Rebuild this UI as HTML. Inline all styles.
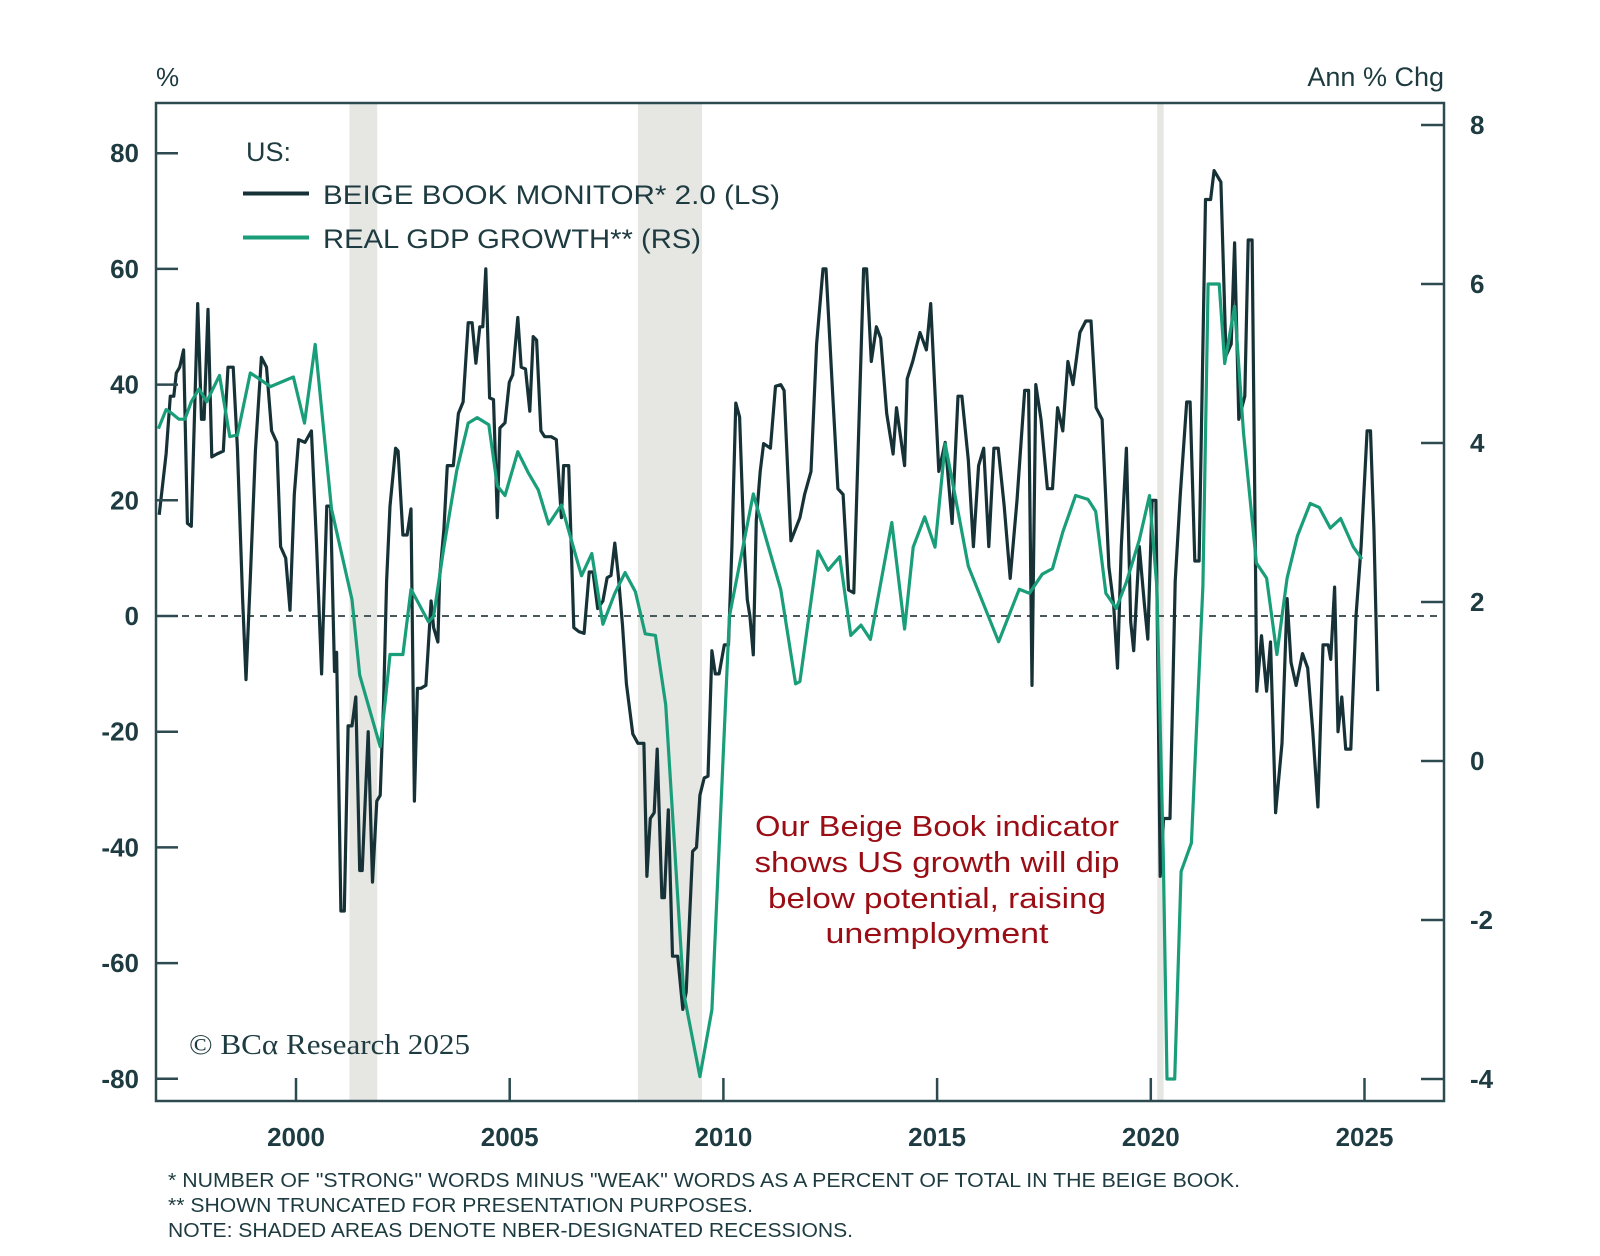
<!DOCTYPE html>
<html><head><meta charset="utf-8"><style>
html,body{margin:0;padding:0;background:#fff;}
svg{display:block;font-family:"Liberation Sans",sans-serif;}
</style></head><body>
<svg id="chart" width="1600" height="1256" viewBox="0 0 1600 1256" xmlns="http://www.w3.org/2000/svg">
<rect width="1600" height="1256" fill="#fff"/>
<g id="rec"></g>
<line x1="156" x2="1444" y1="616" y2="616" stroke="#4a5a5c" stroke-width="2" stroke-dasharray="7,6"/>
<g id="series"></g>
<rect x="156" y="103" width="1288" height="998" fill="none" stroke="#2c4a50" stroke-width="2.5"/>
<g id="axes" fill="#1d3b40" font-weight="bold" font-size="26"></g>
<text x="156" y="86" font-size="26" fill="#1d3b40">%</text>
<text x="1444" y="86" font-size="27" fill="#1d3b40" text-anchor="end">Ann % Chg</text>
<g fill="#1d3b40" font-size="27">
<text x="246" y="161">US:</text>
<line x1="243" x2="309" y1="193.5" y2="193.5" stroke="#173237" stroke-width="4"/>
<text x="323" y="204" textLength="457" lengthAdjust="spacingAndGlyphs">BEIGE BOOK MONITOR* 2.0 (LS)</text>
<line x1="243" x2="309" y1="237.5" y2="237.5" stroke="#1a9e7a" stroke-width="4"/>
<text x="323" y="248" textLength="378" lengthAdjust="spacingAndGlyphs">REAL GDP GROWTH** (RS)</text>
</g>
<g fill="#9b0d14" font-size="29" text-anchor="middle">
<text x="937" y="836" textLength="364" lengthAdjust="spacingAndGlyphs">Our Beige Book indicator</text>
<text x="937" y="872" textLength="365" lengthAdjust="spacingAndGlyphs">shows US growth will dip</text>
<text x="937" y="908" textLength="338" lengthAdjust="spacingAndGlyphs">below potential, raising</text>
<text x="937" y="943" textLength="223" lengthAdjust="spacingAndGlyphs">unemployment</text>
</g>
<text x="189" y="1054" font-family="Liberation Serif,serif" font-size="28" fill="#1d3b40" textLength="281" lengthAdjust="spacingAndGlyphs">© BCα Research 2025</text>
<g fill="#1d3b40" font-size="20">
<text x="168" y="1187" textLength="1072" lengthAdjust="spacingAndGlyphs">* NUMBER OF "STRONG" WORDS MINUS "WEAK" WORDS AS A PERCENT OF TOTAL IN THE BEIGE BOOK.</text>
<text x="168" y="1212" textLength="585" lengthAdjust="spacingAndGlyphs">** SHOWN TRUNCATED FOR PRESENTATION PURPOSES.</text>
<text x="168" y="1237" textLength="685" lengthAdjust="spacingAndGlyphs">NOTE: SHADED AREAS DENOTE NBER-DESIGNATED RECESSIONS.</text>
</g>
</svg>
<script>
const xTicks=[2000,2005,2010,2015,2020,2025];
const leftTicks=[80,60,40,20,0,-20,-40,-60,-80];
const rightTicks=[8,6,4,2,0,-2,-4];
const recStart=[2001.25,2008.0,2020.15];
const recEnd=[2001.9,2009.5,2020.3];
const bbDates=[1996.8,1996.96,1997.06,1997.14,1997.2,1997.28,1997.37,1997.46,1997.55,1997.7,1997.79,1997.85,1997.94,1998.03,1998.15,1998.3,1998.41,1998.53,1998.63,1998.75,1998.83,1998.93,1999.05,1999.19,1999.31,1999.43,1999.55,1999.64,1999.76,1999.86,1999.96,2000.06,2000.21,2000.36,2000.48,2000.6,2000.72,2000.81,2000.9,2000.95,2001.05,2001.13,2001.22,2001.31,2001.4,2001.49,2001.55,2001.69,2001.79,2001.89,2001.97,2002.05,2002.12,2002.2,2002.33,2002.39,2002.5,2002.6,2002.69,2002.77,2002.84,2002.92,2003.04,2003.16,2003.22,2003.32,2003.36,2003.46,2003.54,2003.68,2003.8,2003.91,2004.03,2004.12,2004.21,2004.3,2004.37,2004.44,2004.53,2004.62,2004.71,2004.77,2004.89,2004.99,2005.07,2005.19,2005.27,2005.37,2005.47,2005.55,2005.63,2005.73,2005.82,2005.97,2006.09,2006.21,2006.26,2006.38,2006.5,2006.62,2006.74,2006.86,2006.95,2007.06,2007.18,2007.28,2007.37,2007.46,2007.54,2007.64,2007.73,2007.88,2008.0,2008.14,2008.21,2008.29,2008.38,2008.45,2008.56,2008.62,2008.71,2008.81,2008.93,2009.05,2009.13,2009.28,2009.37,2009.45,2009.55,2009.64,2009.73,2009.81,2009.9,2010.02,2010.12,2010.2,2010.29,2010.38,2010.48,2010.56,2010.62,2010.7,2010.77,2010.86,2010.94,2011.1,2011.22,2011.34,2011.42,2011.58,2011.79,2011.9,2012.05,2012.18,2012.33,2012.4,2012.56,2012.68,2012.8,2012.93,2013.05,2013.15,2013.28,2013.35,2013.46,2013.58,2013.68,2013.82,2013.97,2014.05,2014.24,2014.3,2014.43,2014.6,2014.75,2014.85,2015.04,2015.19,2015.35,2015.49,2015.58,2015.73,2015.85,2015.97,2016.09,2016.21,2016.33,2016.43,2016.57,2016.71,2016.87,2017.05,2017.14,2017.22,2017.31,2017.43,2017.58,2017.7,2017.82,2017.94,2018.06,2018.18,2018.34,2018.48,2018.6,2018.72,2018.86,2019.02,2019.13,2019.22,2019.31,2019.43,2019.53,2019.6,2019.73,2019.85,2019.93,2020.03,2020.12,2020.22,2020.3,2020.45,2020.57,2020.69,2020.84,2020.92,2021.03,2021.13,2021.28,2021.4,2021.48,2021.64,2021.76,2021.88,2021.96,2022.06,2022.2,2022.28,2022.37,2022.48,2022.59,2022.71,2022.8,2022.92,2023.07,2023.19,2023.28,2023.4,2023.55,2023.67,2023.79,2023.91,2024.03,2024.15,2024.21,2024.3,2024.38,2024.47,2024.56,2024.68,2024.8,2024.92,2025.06,2025.14,2025.22,2025.31];
const bbValues=[17.5,28,38,38,42,43,46,16,15.5,54,34,34,53,27.5,28,28.5,43,43,29,3,-11,6.5,28.5,44.7,43,32,30,12,10,1,21,30.5,30,32,12.6,-10,19,19,-9.6,-6.3,-51,-51,-19,-19,-14,-44,-44,-20,-46,-32,-31,-14.6,6,19,29,28.5,14,14,18.5,-32,-12.5,-12.5,-12,2.6,-2,-4.5,6.6,15,26,26,35,37,50.7,50.7,43.7,50,50,60,37.7,37.4,17,32.5,33.4,40.4,41.7,51.6,43,42.7,35.4,48.3,47.7,32,31,31,30.5,17,26,26,-2,-2.7,-3,7.6,7.6,1.3,2.6,6.6,7,12.6,7,-1.6,-11.7,-20.4,-22,-22,-45,-35,-34,-23,-48.7,-48.7,-33.5,-58.8,-58.8,-68,-65,-40.7,-40,-31,-28,-27.7,-6,-10,-10,-5,-5,12,36.8,34.4,13,2.8,0,-6.7,16.6,25,29.8,29,39.7,40,39,13,17,21,25,47,60,60,38,22,21,4.5,4,28,60,60,44,50,48,35,28,36,26,41,44,49,46,54,25,30,16,38,38,27,12,26,29,12,29,29,19,6.5,20,39,39,-12,40,34,22,22,36,32,44,40,49,51,51,36,34,8.5,2,-9,12,29,-1,-6,12,2,-4,20,20,-45,-35,-35,6,21,37,37,9.5,9.5,72,72,77,75,45,47,64.5,34,38,65,65,-13,-3.4,-13,-4.5,-34,-22,3,-8,-12,-6.5,-9,-20,-33,-5,-5,-7.5,5,-20,-14,-23,-23,0,12,32,32,15,-13];
const gdpDates=[1996.78,1996.96,1997.1,1997.26,1997.4,1997.55,1997.73,1997.91,1998.21,1998.45,1998.63,1998.93,1999.16,1999.4,1999.94,2000.2,2000.45,2000.83,2001.31,2001.49,2001.97,2002.09,2002.2,2002.5,2002.69,2003.1,2003.22,2003.46,2003.76,2004.03,2004.24,2004.51,2004.71,2004.89,2005.19,2005.43,2005.67,2005.91,2006.21,2006.68,2006.92,2007.18,2007.46,2007.7,2007.94,2008.17,2008.41,2008.65,2009.07,2009.45,2009.73,2010.14,2010.7,2010.98,2011.34,2011.69,2011.79,2012.21,2012.45,2012.72,2012.98,2013.22,2013.44,2013.94,2014.24,2014.44,2014.71,2014.95,2015.19,2015.43,2015.73,2016.2,2016.44,2016.92,2017.16,2017.46,2017.7,2017.94,2018.24,2018.53,2018.71,2018.95,2019.19,2019.43,2019.73,2019.97,2020.14,2020.29,2020.38,2020.56,2020.71,2020.95,2021.22,2021.34,2021.6,2021.73,2021.96,2022.17,2022.47,2022.71,2022.95,2023.19,2023.43,2023.73,2023.94,2024.2,2024.44,2024.74,2024.94];
const gdpValues=[4.18,4.42,4.37,4.3,4.3,4.52,4.68,4.52,4.85,4.08,4.1,4.88,4.8,4.71,4.83,4.25,5.24,3.17,2.03,1.08,0.18,0.76,1.34,1.34,2.16,1.75,1.82,2.69,3.65,4.25,4.32,4.23,3.46,3.34,3.89,3.63,3.41,2.98,3.22,2.33,2.61,1.72,2.11,2.37,2.13,1.6,1.58,0.71,-2.92,-3.97,-3.13,1.82,3.36,2.83,2.16,0.97,1.0,2.64,2.4,2.57,1.58,1.71,1.53,3.0,1.66,2.69,3.07,2.69,3.99,3.31,2.45,1.82,1.5,2.16,2.11,2.35,2.42,2.88,3.34,3.29,3.14,2.11,1.92,2.25,2.78,3.34,2.2,-1.13,-4.0,-4.0,-1.39,-1.03,2.2,6.0,6.0,5.0,5.72,4.13,2.49,2.3,1.34,2.3,2.83,3.24,3.19,2.93,3.05,2.69,2.54];

const NS='http://www.w3.org/2000/svg';
function xS(y){return 296+(y-2000)*42.74;}
function yL(v){return 616-v*5.785;}
function yR(v){return 761-v*79.5;}
function mk(tag,attrs,parent){const e=document.createElementNS(NS,tag);for(const k in attrs)e.setAttribute(k,attrs[k]);parent.appendChild(e);return e;}

const rec=document.getElementById('rec');
for(let i=0;i<recStart.length;i++){
  const r=mk('rect',{x:xS(recStart[i]),y:103,width:xS(recEnd[i])-xS(recStart[i]),height:998,fill:'#e6e6e3'},rec);
  
  
}
const ser=document.getElementById('series');
let d='';bbDates.forEach((t,i)=>{d+=(i?'L':'M')+xS(t).toFixed(1)+','+yL(bbValues[i]).toFixed(1);});
const p1=mk('path',{d:d,fill:'none',stroke:'#173237','stroke-width':3.2,'stroke-linejoin':'round'},ser);


d='';gdpDates.forEach((t,i)=>{d+=(i?'L':'M')+xS(t).toFixed(1)+','+yR(gdpValues[i]).toFixed(1);});
const p2=mk('path',{d:d,fill:'none',stroke:'#1a9e7a','stroke-width':3.2,'stroke-linejoin':'round'},ser);



const ax=document.getElementById('axes');
leftTicks.forEach(v=>{
  const l=mk('line',{x1:156,x2:178,y1:yL(v),y2:yL(v),stroke:'#2c4a50','stroke-width':2.5},ax);
  
  
  const t=mk('text',{x:139,y:yL(v)+9,'text-anchor':'end'},ax);t.textContent=v;
  
  
});
rightTicks.forEach(v=>{
  const l=mk('line',{x1:1421,x2:1444,y1:yR(v),y2:yR(v),stroke:'#2c4a50','stroke-width':2.5},ax);
  
  
  const t=mk('text',{x:1470,y:yR(v)+9},ax);t.textContent=v;
  
  
});
xTicks.forEach(v=>{
  const l=mk('line',{x1:xS(v),x2:xS(v),y1:1078,y2:1101,stroke:'#2c4a50','stroke-width':2.5},ax);
  
  
  const t=mk('text',{x:xS(v),y:1146,'text-anchor':'middle'},ax);t.textContent=v;
  
  
});
</script>
</body></html>
